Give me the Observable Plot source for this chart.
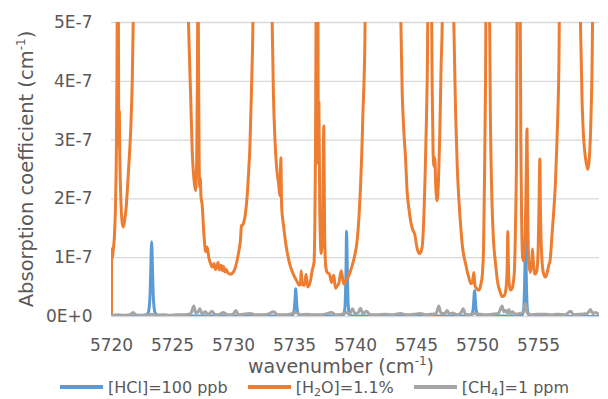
<!DOCTYPE html>
<html>
<head>
<meta charset="utf-8">
<script src="https://cdn.jsdelivr.net/npm/d3@7"></script>
<script src="https://cdn.jsdelivr.net/npm/@observablehq/plot@0.6"></script>
<style>
  html, body { margin: 0; padding: 0; background: #fff; }
  #chart { width: 608px; height: 399px; font-family: "DejaVu Sans", sans-serif; color: #595959; }
  #chart svg { display: block; }
  #legend { display: flex; align-items: center; height: 14px; padding-left: 60px; font-size: 16px; color: #595959; white-space: nowrap; }
  #legend .item { display: flex; align-items: center; margin-right: 20px; }
  #legend .swatch { display: inline-block; width: 43px; height: 3.5px; margin-right: 5px; }
  #legend sub { font-size: 11px; vertical-align: -3px; line-height: 0; }
</style>
</head>
<body>
<div id="chart"></div>
<script>
// ---------------- data (absorption in units of 1E-7 cm^-1) ----------------
const seriesNames = ["[HCl]=100 ppb", "[H2O]=1.1%", "[CH4]=1 ppm"];
const seriesColors = ["#5B9BD5", "#ED7D31", "#A5A5A5"];

const xTicks = [5720, 5725, 5730, 5735, 5740, 5745, 5750, 5755];
const yTicks = [0, 1, 2, 3, 4, 5];
const yTickLabels = ["0E+0", "1E-7", "2E-7", "3E-7", "4E-7", "5E-7"];

// HCl: [wavenumber, absorption]
const hclPoints = [
  [5720.00, 0], [5722.70, 0.01], [5722.80, 0.02], [5723.00, 0.06], [5723.09, 0.15], [5723.17, 0.42],
  [5723.22, 0.80], [5723.26, 1.15], [5723.29, 1.27], [5723.32, 1.15], [5723.36, 0.80], [5723.41, 0.42],
  [5723.49, 0.15], [5723.58, 0.06], [5723.80, 0.02], [5724.00, 0.01],
  [5734.60, 0.01], [5734.80, 0.02], [5734.92, 0.06], [5735.00, 0.16], [5735.05, 0.32], [5735.08, 0.43],
  [5735.10, 0.47], [5735.12, 0.43], [5735.15, 0.32], [5735.20, 0.16], [5735.28, 0.06], [5735.40, 0.02], [5735.60, 0.01],
  [5738.70, 0.01], [5738.96, 0.02], [5739.08, 0.07], [5739.14, 0.17], [5739.19, 0.48], [5739.23, 0.90],
  [5739.25, 1.30], [5739.27, 1.45], [5739.29, 1.30], [5739.32, 0.90], [5739.36, 0.48], [5739.41, 0.17],
  [5739.47, 0.07], [5739.58, 0.02], [5739.80, 0.01],
  [5749.30, 0.01], [5749.45, 0.02], [5749.58, 0.06], [5749.66, 0.16], [5749.71, 0.32], [5749.74, 0.41],
  [5749.76, 0.44], [5749.78, 0.41], [5749.81, 0.32], [5749.86, 0.16], [5749.94, 0.06], [5750.06, 0.02], [5750.20, 0.01],
  [5753.40, 0.01], [5753.62, 0.02], [5753.74, 0.07], [5753.80, 0.17], [5753.85, 0.46], [5753.89, 0.88],
  [5753.91, 1.25], [5753.93, 1.38], [5753.95, 1.25], [5753.98, 0.88], [5754.02, 0.46], [5754.07, 0.17],
  [5754.13, 0.07], [5754.24, 0.02], [5754.50, 0.01], [5760.00, 0]
];

// H2O: [wavenumber, absorption]; values of 6 are lines running off the top of the axis
const h2oPoints = [
  [5720.00, 0], [5720.01, 1.15], [5720.06, 0.98], [5720.15, 1.15], [5720.25, 1.40], [5720.33, 1.90],
  [5720.40, 2.80], [5720.45, 4.20], [5720.49, 6], [5720.55, 6], [5720.58, 4.00], [5720.61, 2.90],
  [5720.64, 3.50], [5720.67, 2.90], [5720.75, 2.10], [5720.85, 1.65], [5720.95, 1.52], [5721.05, 1.60],
  [5721.20, 1.85], [5721.40, 2.50], [5721.58, 3.20], [5721.70, 4.00], [5721.78, 5.00], [5721.84, 6],
  [5726.20, 6], [5726.31, 5.00], [5726.48, 3.80], [5726.62, 2.80], [5726.75, 2.35], [5726.89, 2.14],
  [5726.98, 2.60], [5727.04, 4.00], [5727.09, 6], [5727.13, 4.50], [5727.18, 2.80], [5727.23, 2.20],
  [5727.28, 2.35], [5727.33, 2.05], [5727.43, 1.90], [5727.57, 1.41], [5727.70, 1.12], [5727.78, 1.10],
  [5727.84, 1.18], [5727.98, 1.00], [5728.12, 0.90], [5728.25, 0.84], [5728.40, 0.90], [5728.52, 0.80],
  [5728.65, 0.85], [5728.73, 0.92], [5728.85, 0.79], [5729.00, 0.87], [5729.10, 0.78], [5729.18, 0.85],
  [5729.30, 0.76], [5729.40, 0.80], [5729.55, 0.74], [5729.75, 0.72], [5730.00, 0.76], [5730.16, 0.84],
  [5730.30, 0.96], [5730.41, 1.08], [5730.57, 1.30], [5730.66, 1.55], [5730.75, 1.55], [5730.84, 1.60],
  [5730.98, 1.75], [5731.12, 2.05], [5731.25, 2.50], [5731.34, 2.85], [5731.48, 3.90], [5731.58, 4.80],
  [5731.65, 6], [5733.10, 6], [5733.17, 5.00], [5733.27, 3.80], [5733.40, 3.00], [5733.55, 2.50],
  [5733.70, 2.25], [5733.80, 2.05], [5733.88, 2.70], [5733.95, 1.85], [5734.10, 1.55], [5734.30, 1.22],
  [5734.60, 0.90], [5734.90, 0.72], [5735.20, 0.60], [5735.40, 0.53], [5735.50, 0.60], [5735.55, 0.78],
  [5735.62, 0.55], [5735.80, 0.53], [5735.95, 0.72], [5736.08, 0.50], [5736.30, 0.60], [5736.45, 0.78],
  [5736.60, 0.92], [5736.72, 2.85], [5736.80, 6], [5736.86, 4.20], [5736.91, 6], [5736.96, 2.60],
  [5737.00, 3.64], [5737.07, 1.80], [5737.19, 1.07], [5737.30, 1.50], [5737.40, 3.24], [5737.47, 1.40],
  [5737.56, 0.85], [5737.68, 0.75], [5737.87, 0.72], [5738.03, 0.58], [5738.22, 0.70], [5738.36, 0.48],
  [5738.50, 0.52], [5738.63, 0.56], [5738.83, 0.78], [5739.04, 0.55], [5739.18, 0.60], [5739.32, 0.64],
  [5739.50, 0.72], [5739.73, 0.87], [5739.95, 1.05], [5740.14, 1.30], [5740.30, 1.75], [5740.41, 2.20],
  [5740.52, 2.80], [5740.60, 3.40], [5740.76, 4.55], [5740.85, 6], [5743.60, 6], [5743.72, 5.00],
  [5743.83, 3.80], [5743.95, 3.20], [5744.10, 2.70], [5744.24, 2.10], [5744.37, 1.85], [5744.50, 1.65],
  [5744.65, 1.50], [5744.75, 1.45], [5744.85, 1.40], [5745.06, 1.15], [5745.25, 1.07], [5745.40, 1.12],
  [5745.50, 1.25], [5745.62, 1.80], [5745.72, 2.50], [5745.82, 3.40], [5745.90, 4.40], [5745.96, 6],
  [5746.20, 6], [5746.28, 4.00], [5746.36, 2.80], [5746.44, 2.55], [5746.50, 2.70], [5746.58, 2.20],
  [5746.70, 1.97], [5746.80, 2.30], [5746.91, 3.10], [5747.02, 4.30], [5747.11, 5.00], [5747.16, 6],
  [5747.95, 6], [5748.06, 5.00], [5748.20, 3.50], [5748.34, 2.55], [5748.47, 2.00], [5748.60, 1.60],
  [5748.75, 1.22], [5749.02, 0.90], [5749.29, 0.66], [5749.45, 0.56], [5749.58, 0.58], [5749.70, 0.75],
  [5749.80, 0.52], [5750.00, 0.46], [5750.11, 0.45], [5750.28, 0.55], [5750.39, 0.70], [5750.50, 1.20],
  [5750.57, 2.30], [5750.66, 4.00], [5750.72, 6], [5750.95, 6], [5751.05, 3.50], [5751.18, 2.00],
  [5751.31, 1.30], [5751.48, 0.90], [5751.64, 0.60], [5751.85, 0.42], [5752.02, 0.34], [5752.21, 0.36],
  [5752.35, 0.50], [5752.44, 0.90], [5752.48, 1.45], [5752.53, 0.90], [5752.60, 0.55], [5752.70, 0.45],
  [5752.84, 0.48], [5752.95, 0.60], [5753.03, 0.80], [5753.12, 1.60], [5753.20, 2.85], [5753.27, 6],
  [5753.48, 6], [5753.55, 3.00], [5753.62, 1.60], [5753.70, 1.00], [5753.78, 0.95], [5753.90, 1.30],
  [5753.98, 2.20], [5754.06, 3.19], [5754.12, 1.80], [5754.20, 0.90], [5754.34, 0.75], [5754.45, 0.95],
  [5754.50, 1.15], [5754.57, 0.95], [5754.70, 0.72], [5754.85, 0.76], [5754.98, 1.20], [5755.05, 2.00],
  [5755.11, 2.68], [5755.16, 1.80], [5755.22, 1.25], [5755.39, 0.75], [5755.57, 0.67], [5755.72, 0.75],
  [5755.84, 0.87], [5755.95, 0.95], [5756.12, 1.43], [5756.30, 1.95], [5756.39, 2.28], [5756.50, 2.90],
  [5756.58, 3.41], [5756.68, 4.40], [5756.75, 6], [5758.35, 6], [5758.44, 5.00], [5758.58, 3.60],
  [5758.71, 3.00], [5758.85, 2.70], [5759.04, 2.50], [5759.15, 2.65], [5759.26, 3.10], [5759.40, 4.40],
  [5759.48, 6], [5760.00, 6]
];

// CH4: [wavenumber, absorption]
const ch4Points = [
  [5720.00, 0.02], [5720.50, 0.03], [5721.00, 0.02], [5721.50, 0.03], [5721.78, 0.07], [5722.00, 0.03],
  [5722.50, 0.02], [5723.00, 0.03], [5723.30, 0.04], [5723.60, 0.02], [5724.20, 0.03], [5724.80, 0.02],
  [5725.40, 0.03], [5726.00, 0.03], [5726.50, 0.05], [5726.75, 0.18], [5726.90, 0.06], [5727.10, 0.08],
  [5727.24, 0.13], [5727.40, 0.05], [5727.70, 0.08], [5727.90, 0.03], [5728.25, 0.09], [5728.50, 0.03],
  [5728.90, 0.04], [5729.18, 0.07], [5729.50, 0.03], [5729.90, 0.03], [5730.20, 0.10], [5730.40, 0.03],
  [5730.80, 0.04], [5731.39, 0.05], [5731.80, 0.03], [5732.30, 0.03], [5732.80, 0.04], [5733.30, 0.08],
  [5733.60, 0.03], [5734.10, 0.03], [5734.60, 0.04], [5735.16, 0.07], [5735.50, 0.03], [5736.00, 0.04],
  [5736.50, 0.03], [5737.00, 0.03], [5737.50, 0.04], [5738.03, 0.07], [5738.40, 0.03], [5738.90, 0.04],
  [5739.24, 0.07], [5739.50, 0.04], [5739.75, 0.13], [5739.95, 0.05], [5740.20, 0.06], [5740.41, 0.14],
  [5740.60, 0.05], [5740.90, 0.09], [5741.20, 0.03], [5741.80, 0.03], [5742.40, 0.04], [5743.00, 0.03],
  [5743.69, 0.05], [5744.20, 0.03], [5744.80, 0.04], [5745.33, 0.05], [5745.80, 0.03], [5746.30, 0.04],
  [5746.60, 0.05], [5746.83, 0.18], [5747.00, 0.06], [5747.30, 0.05], [5747.52, 0.10], [5747.70, 0.04],
  [5747.95, 0.06], [5748.30, 0.03], [5748.60, 0.05], [5748.83, 0.13], [5749.00, 0.04], [5749.40, 0.03],
  [5749.75, 0.05], [5750.25, 0.04], [5750.70, 0.03], [5751.20, 0.04], [5751.70, 0.05], [5752.02, 0.18],
  [5752.15, 0.08], [5752.30, 0.10], [5752.45, 0.06], [5752.57, 0.12], [5752.70, 0.05], [5752.87, 0.08],
  [5753.10, 0.04], [5753.50, 0.05], [5753.78, 0.08], [5753.93, 0.22], [5754.08, 0.06], [5754.40, 0.03],
  [5754.90, 0.04], [5755.57, 0.04], [5756.00, 0.03], [5756.60, 0.04], [5757.20, 0.03], [5757.62, 0.09],
  [5757.90, 0.03], [5758.50, 0.04], [5759.00, 0.05], [5759.26, 0.12], [5759.45, 0.05], [5759.67, 0.07],
  [5760.00, 0.03]
];

// ---------------- chart ----------------
const toRows = pts => pts.map(([x, y]) => ({x, y}));
const hcl = toRows(hclPoints), h2o = toRows(h2oPoints), ch4 = toRows(ch4Points);
const yLabelOf = new Map(yTicks.map((t, i) => [t, yTickLabels[i]]));

const chart = Plot.plot({
  width: 608,
  height: 380,
  marginLeft: 111,
  marginRight: 9,
  marginTop: 22,
  marginBottom: 64,
  x: {domain: [5720, 5760]},
  y: {domain: [0, 5]},
  style: {fontFamily: "'DejaVu Sans', sans-serif", fontSize: "17px", color: "#595959", background: "#fff"},
  marks: [
    Plot.gridY(yTicks, {stroke: "#d9d9d9", strokeOpacity: 1, strokeWidth: 1.3}),
    Plot.axisY(yTicks, {tickSize: 0, tickPadding: 19, tickFormat: d => yLabelOf.get(d), label: null, fill: "#595959"}),
    Plot.axisX(xTicks, {tickSize: 0, tickPadding: 22, tickFormat: d => String(d), label: null, fill: "#595959"}),
    Plot.line(hcl, {x: "x", y: "y", stroke: seriesColors[0], strokeWidth: 3, curve: "monotone-x", clip: true}),
    Plot.line(h2o, {x: "x", y: "y", stroke: seriesColors[1], strokeWidth: 3, curve: "monotone-x", clip: true}),
    Plot.line(ch4, {x: "x", y: "y", stroke: seriesColors[2], strokeWidth: 3, curve: "monotone-x", clip: true})
  ]
});

// axis titles with superscripts
const svg = d3.select(chart);
const xt = svg.append("text")
  .attr("x", 341).attr("y", 373)
  .attr("text-anchor", "middle")
  .attr("fill", "#595959")
  .style("font-size", "19px");
xt.append("tspan").text("wavenumber (cm");
xt.append("tspan").attr("dy", -8).style("font-size", "12px").text("-1");
xt.append("tspan").attr("dy", 8).text(")");

const yt = svg.append("text")
  .attr("transform", "translate(26,169) rotate(-90)")
  .attr("text-anchor", "middle")
  .attr("dy", "0.35em")
  .attr("fill", "#595959")
  .style("font-size", "19.5px");
yt.append("tspan").text("Absorption coefficient (cm");
yt.append("tspan").attr("dy", -8).style("font-size", "12px").text("-1");
yt.append("tspan").attr("dy", 8).text(")");

const root = document.getElementById("chart");
root.appendChild(chart);

// legend
const legend = document.createElement("div");
legend.id = "legend";
const legendHTML = ["[HCl]=100 ppb", "[H<sub>2</sub>O]=1.1%", "[CH<sub>4</sub>]=1 ppm"];
seriesNames.forEach((name, i) => {
  const item = document.createElement("div");
  item.className = "item";
  item.innerHTML = `<span class="swatch" style="background:${seriesColors[i]}"></span><span>${legendHTML[i]}</span>`;
  legend.appendChild(item);
});
root.appendChild(legend);
</script>
</body>
</html>
